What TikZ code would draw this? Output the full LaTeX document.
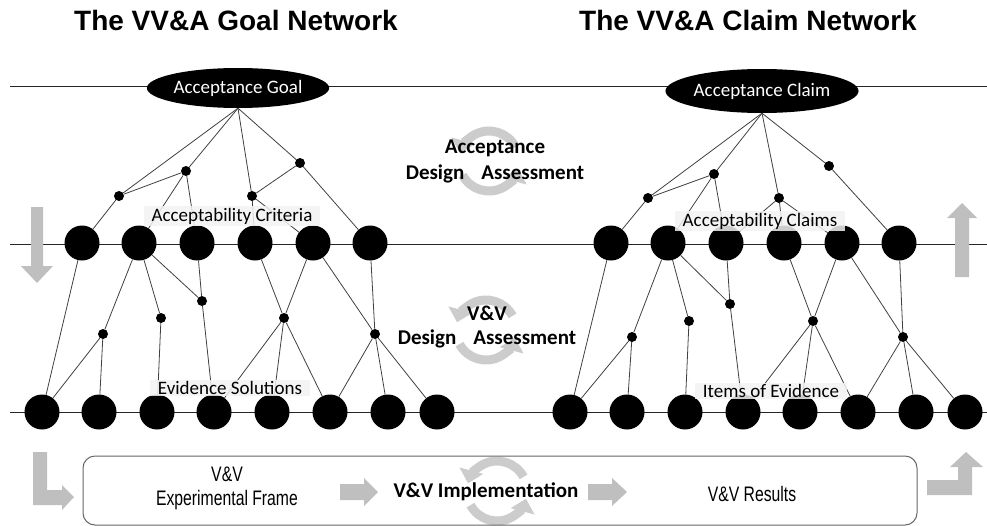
\documentclass[tikz,border=0pt]{standalone}
\usepackage{fontspec}
\setmainfont{Carlito}
\newfontfamily\titlefont{Liberation Sans}
\newfontfamily\narrowfont[FakeStretch=0.75]{Liberation Sans}
\usetikzlibrary{arrows.meta, shapes.geometric}

\tikzset{
  bigdot/.style={circle, fill=black, minimum size=35pt, inner sep=0pt},
  smalldot/.style={circle, fill=black, minimum size=10pt, inner sep=0pt},
  link/.style={black!75, line width=0.8pt},
  level/.style={black!85, line width=1pt},
  topnode/.style={ellipse, fill=black, text=white, minimum width=180pt, minimum height=40pt, inner sep=0pt, font=\fontsize{19}{22}\selectfont},
  tag/.style={fill=gray!10, fill opacity=0.85, text opacity=1, inner xsep=8pt, inner ysep=1.5pt, font=\fontsize{19}{22}\selectfont},
  cyclelabel/.style={font=\bfseries\fontsize{21}{24}\selectfont},
  cyclearrow/.style={gray!40, line width=9pt, -{Triangle[width=24pt,length=13pt]}},
  nettitle/.style={font=\titlefont\bfseries\fontsize{28}{32}\selectfont},
  boxtext/.style={font=\narrowfont\fontsize{21}{24}\selectfont, align=center},
  blockarrow/.style={fill=gray!50},
}

\begin{document}
\begin{tikzpicture}[x=1pt, y=-1pt]
  \useasboundingbox (0,0) rectangle (987,525);

  % Titles
  \node[nettitle] (gtitle) at (236,20) {The VV\&A Goal Network};
  \node[nettitle] (ctitle) at (748,20) {The VV\&A Claim Network};

  % Level lines
  \draw[level] (10,86) -- (987,86);
  \draw[level] (10,244) -- (987,244);
  \draw[level] (10,412) -- (987,412);

  % Round arrows
  \foreach \cx/\cy in {489/161, 486/330, 497/491} {
    \draw[cyclearrow] (\cx,\cy) ++(-28:30) arc[start angle=-28, end angle=-165, radius=30];
    \draw[cyclearrow] (\cx,\cy) ++(-208:30) arc[start angle=-208, end angle=-345, radius=30];
  }

  % Goal network
  \node[topnode] (goal) at (238,88) {Acceptance Goal};
  \foreach \x/\y [count=\i] in {119/196, 186/171, 252/196, 300/163}
    \node[smalldot] (ga\i) at (\x,\y) {};
  \foreach \x [count=\i] in {82,139,197,255,313,370}
    \node[bigdot] (gm\i) at (\x,243) {};
  \foreach \x/\y [count=\i] in {103/334, 161/318, 202/301, 284/318, 375/334}
    \node[smalldot] (ge\i) at (\x,\y) {};
  \foreach \x [count=\i] in {42,99,157,214,272,330,388,437}
    \node[bigdot] (gb\i) at (\x,412) {};

  \foreach \a/\b in {goal.south/ga1, goal.south/ga2, goal.south/ga3, goal.south/ga4,
                     ga1/ga2, ga1/gm1, ga2/gm2, ga2/gm3, ga3/gm4, ga3/gm5, ga4/ga3, ga4/gm6,
                     gm1/gb1, gm2/ge1, gm2/ge2, gm2/ge3, gm3/ge3, gm4/ge4, gm5/ge4, gm5/ge5, gm6/ge5,
                     ge1/gb1, ge1/gb2, ge2/gb3, ge3/gb4, ge4/gb4, ge4/gb5, ge4/gb6,
                     ge5/gb6, ge5/gb7, ge5/gb8}
    \draw[link] (\a) -- (\b);

  % Claim network
  \node[topnode, minimum width=182pt, minimum height=44pt] (claim) at (762,91) {Acceptance Claim};
  \foreach \x/\y [count=\i] in {648/198, 714/174, 779/198, 829/166}
    \node[smalldot] (ca\i) at (\x,\y) {};
  \foreach \x [count=\i] in {611,668,726,784,842,899}
    \node[bigdot] (cm\i) at (\x,243) {};
  \foreach \x/\y [count=\i] in {632/337, 689/321, 730/304, 813/321, 903/337}
    \node[smalldot] (ce\i) at (\x,\y) {};
  \foreach \x [count=\i] in {570,627,685,743,800,858,916,965}
    \node[bigdot] (cb\i) at (\x,412) {};

  \foreach \a/\b in {claim.south/ca1, claim.south/ca2, claim.south/ca3, claim.south/ca4,
                     ca1/ca2, ca1/cm1, ca2/cm2, ca2/cm3, ca3/cm3, ca3/cm4, ca3/cm5, ca4/cm6,
                     cm1/cb1, cm2/ce1, cm2/ce2, cm2/ce3, cm3/ce3, cm4/ce4, cm5/ce4, cm5/ce5, cm6/ce5,
                     ce1/cb1, ce1/cb2, ce2/cb3, ce3/cb4, ce4/cb4, ce4/cb5, ce4/cb6,
                     ce5/cb6, ce5/cb7, ce5/cb8}
    \draw[link] (\a) -- (\b);

  % Level tags
  \node[tag] (crit) at (232,216) {Acceptability Criteria};
  \node[tag] (claims) at (760,221) {Acceptability Claims};
  \node[tag] (sol) at (230,388) {Evidence Solutions};
  \node[tag] (items) at (771,391) {Items of Evidence};

  % Cycle labels
  \node[cyclelabel] (acc) at (495,148) {Acceptance};
  \node[cyclelabel] (accda) at (495,174) {Design\hspace{17pt}Assessment};
  \node[cyclelabel] (vv) at (487,313) {V\&V};
  \node[cyclelabel] (vvda) at (487,339) {Design\hspace{17pt}Assessment};

  % Direction arrows
  \fill[blockarrow] (31,207) -- (43,207) -- (43,266) -- (53,266) -- (37,283) -- (21,266) -- (31,266) -- cycle;
  \fill[blockarrow] (955,277) -- (969,277) -- (969,218) -- (977,218) -- (962,203) -- (947,218) -- (955,218) -- cycle;
  \fill[blockarrow] (33,452) -- (47,452) -- (47,490) -- (62,490) -- (62,485) -- (74,497) -- (62,510) -- (62,505) -- (33,505) -- cycle;
  \fill[blockarrow] (927,480) -- (958,480) -- (958,467) -- (950,467) -- (966,452) -- (983,467) -- (972,467) -- (972,495) -- (927,495) -- cycle;

  % V&V process box
  \draw[black!60, line width=1pt, rounded corners=12pt] (83,456) rectangle (917,525);
  \node[boxtext] (frame) at (227,488) {V\&V\\Experimental Frame};
  \node[cyclelabel] (impl) at (486,492) {V\&V Implementation};
  \node[boxtext] (res) at (752,494) {V\&V Results};
  \fill[blockarrow] (340,484) -- (364,484) -- (364,478) -- (378,492) -- (364,506) -- (364,500) -- (340,500) -- cycle;
  \fill[blockarrow] (588,484) -- (612,484) -- (612,478) -- (627,492) -- (612,506) -- (612,500) -- (588,500) -- cycle;
\end{tikzpicture}
\end{document}
